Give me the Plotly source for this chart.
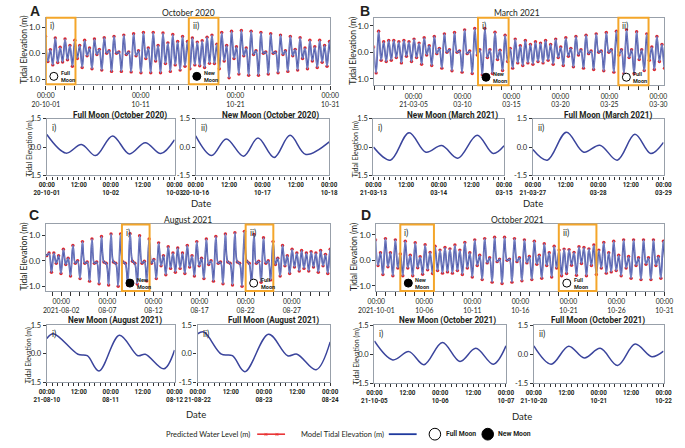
import pandas as pd
import plotly.graph_objects as go

W, H = 685, 448

# ------------------------------------------------------------------ data
# Overview panels: successive tidal extrema (m) (H, L, H, L per tidal day)
overview_titles = ["October 2020", "March 2021", "August 2021", "October 2021"]
overview_first_extremum = ["2020-09-30 23:00", "2021-02-28 22:00", "2021-07-31 04:00", "2021-09-30 22:00"]
extremum_interval_hours = 6.2

oct2020_levels = [
    0.66, -0.32, 0.14, -0.45, 0.59, -0.36, 0.23, -0.34, 0.55, -0.25, 0.30, -0.50,
    0.50, -0.20, 0.30, -0.55, 0.50, -0.10, 0.20, -0.60, 0.55, -0.05, 0.15, -0.65,
    0.60, 0.00, 0.10, -0.70, 0.65, 0.00, 0.05, -0.70, 0.70, -0.05, 0.05, -0.72,
    0.75, -0.10, 0.10, -0.75, 0.80, -0.20, 0.20, -0.75, 0.80, -0.30, 0.30, -0.75,
    0.78, -0.40, 0.40, -0.70, 0.72, -0.45, 0.45, -0.65, 0.65, -0.50, 0.45, -0.60,
    0.59, -0.45, 0.43, -0.48, 0.48, -0.55, 0.62, -0.39, 0.70, -0.40, 0.35, -0.60,
    0.80, -0.30, 0.30, -0.95, 0.85, -0.20, 0.25, -0.80, 0.88, -0.10, 0.20, -0.85,
    0.85, -0.05, 0.10, -0.85, 0.80, 0.00, 0.05, -0.80, 0.75, 0.00, 0.05, -0.75,
    0.70, -0.05, 0.10, -0.70, 0.65, -0.10, 0.15, -0.65, 0.60, -0.20, 0.20, -0.60,
    0.50, -0.30, 0.25, -0.55, 0.50, -0.35, 0.30, -0.50, 0.45, -0.40, 0.35, -0.45,
]
mar2021_levels = [
    0.20, -0.78, 0.80, -0.30, 0.40, -0.35, 0.45, -0.30, 0.45, -0.20, 0.40, -0.40,
    0.45, -0.15, 0.40, -0.35, 0.50, -0.20, 0.35, -0.45, 0.55, -0.10, 0.25, -0.50,
    0.60, -0.05, 0.15, -0.60, 0.70, 0.00, 0.10, -0.70, 0.75, 0.00, 0.05, -0.75,
    0.85, -0.05, 0.05, -0.80, 0.90, -0.10, 0.10, -0.85, 0.90, -0.20, 0.10, -0.80,
    0.76, -0.27, 0.08, -0.69, 0.65, -0.35, 0.15, -0.60, 0.50, -0.40, 0.25, -0.50,
    0.45, -0.40, 0.30, -0.45, 0.40, -0.35, 0.35, -0.40, 0.45, -0.30, 0.30, -0.45,
    0.50, -0.20, 0.20, -0.50, 0.55, -0.15, 0.15, -0.55, 0.60, -0.10, 0.10, -0.60,
    0.65, -0.05, 0.05, -0.65, 0.70, 0.00, 0.05, -0.70, 0.75, 0.00, 0.10, -0.75,
    0.80, -0.10, 0.10, -0.80, 0.85, -0.20, 0.10, -0.80, 0.78, -0.27, 0.10, -0.69,
    0.70, -0.30, 0.20, -0.65, 0.60, -0.35, 0.30, -0.60, 0.55, -0.45, 0.35, -0.55,
    0.55, -0.40, 0.40, -0.55,
]
aug2021_levels = [
    0.35, 0.20, 0.30, -0.45, 0.30, -0.10, 0.20, -0.50, 0.45, -0.15, 0.10, -0.60,
    0.60, -0.10, 0.00, -0.70, 0.75, -0.10, -0.05, -0.80, 0.85, -0.10, -0.05, -0.90,
    0.95, -0.05, -0.10, -0.95, 1.05, -0.05, -0.10, -1.00, 1.05, -0.05, -0.10, -0.95,
    1.06, -0.02, -0.10, -0.91, 0.98, -0.10, -0.02, -0.79, 0.85, -0.10, 0.05, -0.70,
    0.70, -0.20, 0.20, -0.55, 0.55, -0.30, 0.30, -0.45, 0.50, -0.30, 0.30, -0.50,
    0.60, -0.25, 0.20, -0.60, 0.75, -0.20, 0.10, -0.70, 0.85, -0.15, 0.00, -0.80,
    0.95, -0.10, -0.05, -0.90, 1.05, -0.05, -0.10, -0.95, 1.10, -0.05, -0.10, -1.00,
    1.15, -0.02, -0.10, -0.94, 1.03, -0.10, -0.02, -0.84, 0.90, -0.10, 0.00, -0.75,
    0.75, -0.15, 0.10, -0.60, 0.60, -0.20, 0.20, -0.50, 0.45, -0.25, 0.30, -0.40,
    0.40, -0.30, 0.30, -0.40, 0.35, -0.25, 0.30, -0.45, 0.40, -0.20, 0.25, -0.50,
    0.45, -0.20, 0.20, -0.50,
]
oct2021_levels = [
    0.80, -0.20, 0.30, -0.55, 0.85, -0.25, 0.30, -0.60, 0.80, -0.30, 0.25, -0.60,
    0.75, -0.30, 0.20, -0.60, 0.69, -0.29, 0.14, -0.54, 0.61, -0.37, 0.31, -0.51,
    0.55, -0.40, 0.40, -0.50, 0.50, -0.45, 0.45, -0.50, 0.60, -0.40, 0.40, -0.55,
    0.70, -0.30, 0.30, -0.65, 0.80, -0.20, 0.20, -0.75, 0.85, -0.10, 0.10, -0.85,
    0.90, -0.05, 0.05, -0.90, 0.90, 0.00, 0.05, -0.85, 0.85, -0.05, 0.10, -0.80,
    0.80, -0.10, 0.15, -0.75, 0.75, -0.15, 0.20, -0.70, 0.65, -0.20, 0.30, -0.65,
    0.55, -0.30, 0.40, -0.60, 0.44, -0.51, 0.42, -0.19, 0.31, -0.58, 0.53, -0.12,
    0.50, -0.60, 0.45, -0.20, 0.60, -0.55, 0.40, -0.30, 0.70, -0.50, 0.30, -0.45,
    0.75, -0.40, 0.20, -0.60, 0.80, -0.30, 0.15, -0.70, 0.80, -0.20, 0.10, -0.75,
    0.80, -0.15, 0.10, -0.75, 0.80, -0.20, 0.15, -0.70, 0.75, -0.25, 0.20, -0.65,
]
overview_levels = [oct2020_levels, mar2021_levels, aug2021_levels, oct2021_levels]
overview_ranges = [["2020-10-01", "2020-10-31"], ["2021-03-01", "2021-03-30 15:00"],
                   ["2021-07-31 08:00", "2021-08-31 04:00"], ["2021-10-01", "2021-10-31"]]
overview_minor_tick0 = ["2020-10-01", "2021-03-01", "2021-08-01", "2021-10-01"]

oct2020_tick_days = ["2020-10-01", "2020-10-11", "2020-10-21", "2020-10-31"]
oct2020_tick_text = ["00:00<br>20-10-01", "00:00<br>10-11", "00:00<br>10-21", "00:00<br>10-31"]
mar2021_tick_days = ["2021-03-05", "2021-03-10", "2021-03-15", "2021-03-20", "2021-03-25", "2021-03-30"]
mar2021_tick_text = ["00:00<br>21-03-05", "00:00<br>03-10", "00:00<br>03-15", "00:00<br>03-20",
                     "00:00<br>03-25", "00:00<br>03-30"]
aug2021_tick_days = ["2021-08-02", "2021-08-07", "2021-08-12", "2021-08-17", "2021-08-22", "2021-08-27"]
aug2021_tick_text = ["00:00<br>2021-08-02", "00:00<br>08-07", "00:00<br>08-12", "00:00<br>08-17",
                     "00:00<br>08-22", "00:00<br>08-27"]
oct2021_tick_days = ["2021-10-01", "2021-10-06", "2021-10-11", "2021-10-16", "2021-10-21",
                     "2021-10-26", "2021-10-31"]
oct2021_tick_text = ["00:00<br>2021-10-01", "00:00<br>10-06", "00:00<br>10-11", "00:00<br>10-16",
                     "00:00<br>10-21", "00:00<br>10-26", "00:00<br>10-31"]
overview_tick_days = [oct2020_tick_days, mar2021_tick_days, aug2021_tick_days, oct2021_tick_days]
overview_tick_text = [oct2020_tick_text, mar2021_tick_text, aug2021_tick_text, oct2021_tick_text]

# highlighted (orange) windows in the overview panels
highlight_windows = [
    [["2020-10-01 00:00", "2020-10-04 03:00"], ["2020-10-16 02:00", "2020-10-19 05:00"]],
    [["2021-03-11 14:00", "2021-03-14 17:00"], ["2021-03-25 22:00", "2021-03-29 00:00"]],
    [["2021-08-08 14:00", "2021-08-11 14:00"], ["2021-08-22 00:00", "2021-08-25 00:00"]],
    [["2021-10-03 12:00", "2021-10-07 00:00"], ["2021-10-20 00:00", "2021-10-23 22:00"]],
]
highlight_phase = [["Full", "New"], ["New", "Full"], ["New", "Full"], ["New", "Full"]]

# Detail panels (2-day windows): hours after start and tidal elevation (m)
detail_titles = ["Full Moon (October 2020)", "New Moon (October 2020)",
                 "New Moon (March 2021)", "Full Moon (March 2021)",
                 "New Moon (August 2021)", "Full Moon (August 2021)",
                 "New Moon (October 2021)", "Full Moon (October 2021)"]
detail_starts = ["2020-10-01", "2020-10-16", "2021-03-13", "2021-03-27",
                 "2021-08-10", "2021-08-22", "2021-10-05", "2021-10-20"]
detail_tick_text = [
    ["00:00<br>20-10-01", "12:00", "00:00<br>10-02", "12:00", "00:00<br>10-03"],
    ["00:00<br>20-10-16", "12:00", "00:00<br>10-17", "12:00", "00:00<br>10-18"],
    ["00:00<br>21-03-13", "12:00", "00:00<br>03-14", "12:00", "00:00<br>03-15"],
    ["00:00<br>21-03-27", "12:00", "00:00<br>03-28", "12:00", "00:00<br>03-29"],
    ["00:00<br>21-08-10", "12:00", "00:00<br>08-11", "12:00", "00:00<br>08-12"],
    ["00:00<br>21-08-22", "12:00", "00:00<br>08-23", "12:00", "00:00<br>08-24"],
    ["00:00<br>21-10-05", "12:00", "00:00<br>10-06", "12:00", "00:00<br>10-07"],
    ["00:00<br>21-10-20", "12:00", "00:00<br>10-21", "12:00", "00:00<br>10-22"],
]
detail_tick_hours = [0, 12, 24, 36, 48]

oct2020_full_hours = [0, 7.2, 13, 18.3, 24.7, 31, 37, 42.8, 48]
oct2020_full_levels = [0.66, -0.32, 0.14, -0.45, 0.59, -0.36, 0.23, -0.34, 0.39]
oct2020_new_hours = [0, 5.7, 11, 17.2, 22.4, 28.2, 33.9, 39.6, 48]
oct2020_new_levels = [0.59, -0.45, 0.43, -0.48, 0.48, -0.55, 0.62, -0.39, 0.27]
mar2021_new_hours = [0, 6.2, 13.1, 19.3, 25.1, 31, 38.1, 44, 48]
mar2021_new_levels = [0.0, -0.69, 0.76, -0.27, 0.08, -0.59, 0.62, -0.34, 0.07]
mar2021_full_hours = [0, 5.3, 12.3, 18.7, 24.6, 31, 37.5, 43.3, 48]
mar2021_full_levels = [-0.13, -0.69, 0.78, -0.27, 0.10, -0.69, 0.67, -0.34, 0.25]
aug2021_new_hours = [0, 2.5, 11.7, 15.2, 19.6, 27.3, 34.2, 37, 44, 48]
aug2021_new_levels = [0.81, 1.06, -0.02, -0.10, -0.91, 0.98, -0.10, -0.02, -0.79, 0.20]
aug2021_full_hours = [0, 2.3, 8.6, 12.6, 17.1, 25.7, 32.6, 36, 42.9, 48]
aug2021_full_levels = [1.06, 1.15, -0.02, -0.10, -0.94, 1.03, -0.10, -0.02, -0.84, 0.63]
oct2021_new_hours = [0, 6.7, 12.6, 18.1, 24.8, 31.2, 37, 43.4, 48]
oct2021_new_levels = [0.69, -0.29, 0.14, -0.54, 0.61, -0.37, 0.31, -0.51, 0.44]
oct2021_full_hours = [0, 6.4, 12.9, 18.7, 24.6, 31, 37.5, 43.7, 48]
oct2021_full_levels = [0.44, -0.51, 0.42, -0.19, 0.31, -0.58, 0.53, -0.12, 0.17]
detail_hours = [oct2020_full_hours, oct2020_new_hours, mar2021_new_hours, mar2021_full_hours,
                aug2021_new_hours, aug2021_full_hours, oct2021_new_hours, oct2021_full_hours]
detail_levels = [oct2020_full_levels, oct2020_new_levels, mar2021_new_levels, mar2021_full_levels,
                 aug2021_new_levels, aug2021_full_levels, oct2021_new_levels, oct2021_full_levels]

# ------------------------------------------------------------------ styling / layout
FONT = "Lato, 'Open Sans', sans-serif"
BOLD = "Roboto, 'Liberation Sans', sans-serif"
BLUE = "#3a449c"
LIGHT = "#b4c3ec"
RED = "#e8282b"
ORANGE = "#f4a62a"
FRAME = "#98a0aa"
TXT = "#231f20"

# pixel boxes: (left, right, top, bottom)
top_boxes = [(29, 325, 14, 82), (371, 673, 14, 83), (29, 325, 225, 293), (373, 673, 225, 293)]
top_yranges = [(-1.2, 1.37), (-1.25, 1.31), (-1.19, 1.42), (-1.2, 1.4)]
detail_boxes = [(30, 163, 117, 175), (185, 324, 117, 175), (370, 506, 117, 175), (536, 672, 117, 175),
                (30, 163, 328, 386), (187, 325, 328, 386), (371, 508, 328, 387), (537, 672, 328, 387)]
detail_title_x = [106, 263, 452, 614, 101, 266, 447, 604]
detail_title_y = [113.5, 113.5, 113.5, 113.5, 323, 323, 323, 323]


def xdom(l, r):
    return [l / W, r / W]


def ydom(t, b):
    return [1 - b / H, 1 - t / H]


def sfx(ax):
    return "" if ax == 1 else str(ax)


fig = go.Figure()
layout = {}
annotations = []
shapes = []


def ann(text, x, y, size, family=FONT, bold=False, xanchor="center", yanchor="middle",
        angle=0, color=TXT):
    annotations.append(dict(text=text, x=x / W, y=1 - y / H, xref="paper", yref="paper", showarrow=False,
                            xanchor=xanchor, yanchor=yanchor, textangle=angle,
                            font=dict(family=family, size=size, color=color,
                                      weight="bold" if bold else "normal")))


# ---- overview panels
for i in range(4):
    ax = i + 1
    l, r, t, b = top_boxes[i]
    start = pd.Timestamp(overview_first_extremum[i])
    lv = overview_levels[i]
    times = [start + pd.Timedelta(hours=extremum_interval_hours * k) for k in range(len(lv))]
    xa, ya = "x" + sfx(ax), "y" + sfx(ax)
    fig.add_trace(go.Scatter(x=times, y=lv, mode="markers", marker=dict(color=RED, size=3.4),
                             xaxis=xa, yaxis=ya, showlegend=False, hoverinfo="skip"))
    fig.add_trace(go.Scatter(x=times, y=lv, mode="lines",
                             line=dict(color=BLUE, width=1.7, shape="spline", smoothing=1.0),
                             xaxis=xa, yaxis=ya, showlegend=False, hoverinfo="skip"))
    fig.add_trace(go.Scatter(x=times, y=lv, mode="lines",
                             line=dict(color=LIGHT, width=0.5, shape="spline", smoothing=1.0),
                             xaxis=xa, yaxis=ya, showlegend=False, hoverinfo="skip"))
    layout["xaxis" + sfx(ax)] = dict(
        domain=xdom(l, r), anchor=ya, type="date", range=overview_ranges[i],
        tickmode="array", tickvals=overview_tick_days[i], ticktext=overview_tick_text[i],
        ticks="outside", ticklen=4, tickcolor="#333", tickwidth=1,
        tickfont=dict(family=FONT, size=6.8, color=TXT),
        minor=dict(dtick=86400000, tick0=overview_minor_tick0[i], ticks="outside", ticklen=4,
                   tickcolor="#333", tickwidth=1),
        showline=True, linecolor=FRAME, linewidth=1.3, mirror=True, showgrid=False, zeroline=False)
    layout["yaxis" + sfx(ax)] = dict(
        domain=ydom(t, b), anchor=xa, range=list(top_yranges[i]),
        tickmode="array", tickvals=[-1, 0, 1], ticktext=["-1.0", "0.0", "1.0"],
        ticks="outside", ticklen=3, tickcolor="#333", tickfont=dict(family=FONT, size=8, color=TXT),
        showline=True, linecolor=FRAME, linewidth=1.3, mirror=True, showgrid=False, zeroline=False)
    ann(overview_titles[i], (l + r) / 2 + (0 if i % 2 == 0 else -3), t - 5, 8.5)
    ann("Tidal Elevation (m)", l - 23, (t + b) / 2 - 1, 8.5, angle=-90)
    # orange highlight windows
    for j, (w0, w1) in enumerate(highlight_windows[i]):
        shapes.append(dict(type="rect", xref=xa, yref=ya + " domain", x0=w0, x1=w1, y0=0, y1=1,
                           line=dict(color=ORANGE, width=2), fillcolor="rgba(0,0,0,0)", layer="above"))
        annotations.append(dict(text=["i)", "ii)"][j], x=w0, y=0.98, xref=xa, yref=ya + " domain",
                                xanchor="left", yanchor="top", xshift=2, showarrow=False,
                                font=dict(family=FONT, size=8.5, color=TXT)))
        phase = highlight_phase[i][j]
        shapes.append(dict(type="circle", xref=xa, yref=ya + " domain", xsizemode="pixel",
                           ysizemode="pixel", xanchor=w0, yanchor=0.12, x0=4, x1=12, y0=-4, y1=4,
                           line=dict(color="black", width=1),
                           fillcolor="black" if phase == "New" else "white", layer="above"))
        annotations.append(dict(text=f"{phase}<br>Moon", x=w0, y=0.12, xref=xa, yref=ya + " domain",
                                xanchor="left", yanchor="middle", xshift=13, showarrow=False, align="left",
                                font=dict(family=BOLD, size=5.5, color=TXT, weight="bold")))

# ---- detail panels
for k in range(8):
    ax = k + 5
    l, r, t, b = detail_boxes[k]
    st = pd.Timestamp(detail_starts[k])
    xs = [st + pd.Timedelta(hours=h) for h in detail_hours[k]]
    xa, ya = "x" + sfx(ax), "y" + sfx(ax)
    fig.add_trace(go.Scatter(x=xs, y=detail_levels[k], mode="lines",
                             line=dict(color=BLUE, width=1.5, shape="spline", smoothing=1.0),
                             xaxis=xa, yaxis=ya, showlegend=False, hoverinfo="skip"))
    layout["xaxis" + sfx(ax)] = dict(
        domain=xdom(l, r), anchor=ya, type="date", range=[st, st + pd.Timedelta(hours=48)],
        tickmode="array", tickvals=[st + pd.Timedelta(hours=h) for h in detail_tick_hours],
        ticktext=detail_tick_text[k], ticks="outside", ticklen=3, tickcolor="#333",
        tickfont=dict(family=BOLD, size=6.3, color=TXT, weight="bold"),
        minor=dict(dtick=7200000, tick0=st, ticks="outside", ticklen=3, tickcolor="#333"),
        showline=True, linecolor=FRAME, linewidth=1.3, mirror=True, showgrid=False, zeroline=False)
    layout["yaxis" + sfx(ax)] = dict(
        domain=ydom(t, b), anchor=xa, range=[-1.5, 1.5],
        tickmode="array", tickvals=[-1.5, 0, 1.5], ticktext=["-1.5", "0.0", "1.5"],
        ticks="outside", ticklen=3, tickcolor="#333", tickfont=dict(family=FONT, size=7.5, color=TXT),
        showline=True, linecolor=FRAME, linewidth=1.3, mirror=True, showgrid=False, zeroline=False)
    ann(detail_titles[k], detail_title_x[k], detail_title_y[k], 8.2, family=BOLD, bold=True)
    ann(["i)", "ii)"][k % 2], l + 3, t + 2, 8.5, xanchor="left", yanchor="top")
    if k % 2 == 0:
        ann("Tidal Elevation (m)", l - 19, (t + b) / 2 + 2, 7, angle=-90)

# panel letters
for letter, (x, y) in zip(["A", "B", "C", "D"], [(18, 7), (361, 7), (17, 215), (362, 215)]):
    ann(letter, x, y, 14, family="'Liberation Sans', Arial, sans-serif", bold=True)

# "Date" labels
for (x, y) in [(191, 204), (536, 204), (185, 419), (525, 421)]:
    ann("Date", x, y, 9.5)

# legend (bottom)
LY = 439
ann("Predicted Water Level (m)", 244, LY, 7.5, xanchor="right")
shapes.append(dict(type="line", xref="paper", yref="paper", x0=249 / W, x1=278 / W,
                   y0=1 - LY / H, y1=1 - LY / H, line=dict(color=RED, width=1.5)))
for xm in (258, 270):
    ann("×", xm, LY - 0.5, 7, color=RED)
ann("Model Tidal Elevation (m)", 383, LY, 7.5, xanchor="right")
shapes.append(dict(type="line", xref="paper", yref="paper", x0=386 / W, x1=415 / W,
                   y0=1 - LY / H, y1=1 - LY / H, line=dict(color="#1f3a9e", width=1.8)))
for cx, fill, label in [(434, "white", "Full Moon"), (489, "black", "New Moon")]:
    shapes.append(dict(type="circle", xref="paper", yref="paper", x0=(cx - 6) / W, x1=(cx + 6) / W,
                       y0=1 - (LY + 6) / H, y1=1 - (LY - 6) / H, line=dict(color="black", width=1),
                       fillcolor=fill))
    ann(label, cx + 9, LY, 6.8, family=BOLD, bold=True, xanchor="left")

layout.update(dict(width=W, height=H, margin=dict(l=0, r=0, t=0, b=0), paper_bgcolor="white",
                   plot_bgcolor="white", showlegend=False, annotations=annotations, shapes=shapes,
                   font=dict(family=FONT, color=TXT)))
fig.update_layout(**layout)
fig.write_html("out.html", config={"displayModeBar": False},
               post_script="document.body.style.margin='0';")
